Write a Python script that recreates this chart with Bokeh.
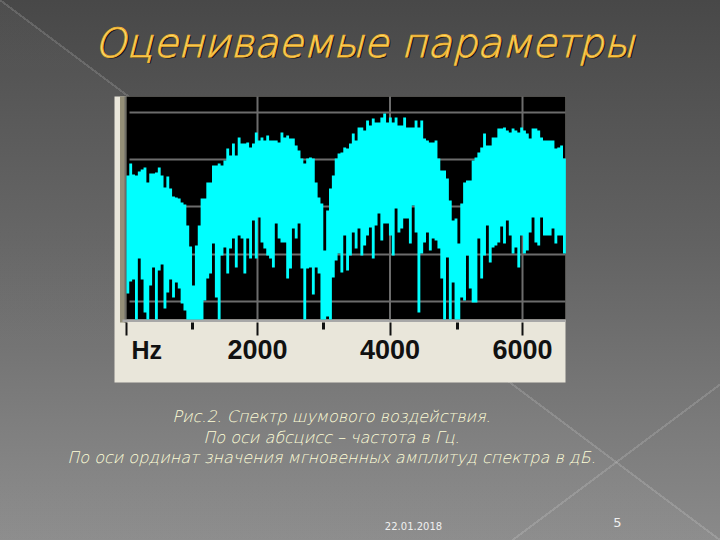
from bokeh.embed import file_html
from bokeh.resources import INLINE
from bokeh.models import Label, FixedTicker, LinearAxis, Range1d
from bokeh.plotting import figure

BIN_HZ = 43.07
# Upper envelope of the spectrum, one value per FFT bin (amplitude units above the floor)
spectrum_top = [
    144,156,145,144,148,150,152,137,146,146,147,152,144,132,143,131,123,122,121,117,
    115,94,73,34,74,94,121,121,137,137,154,154,156,154,159,171,164,176,164,182,
    176,176,177,172,176,187,179,182,179,184,179,179,179,177,187,182,184,181,181,174,
    169,161,156,161,162,161,137,122,116,69,109,131,144,161,166,167,172,171,176,186,
    179,192,192,189,199,194,201,197,197,202,206,197,202,197,202,194,194,202,192,192,
    192,199,192,199,181,179,177,177,179,161,149,149,141,119,99,101,76,116,137,139,
    139,159,162,167,172,186,174,174,182,182,191,191,192,189,187,191,189,187,192,189,
    186,181,191,191,189,182,179,179,179,179,171,172,174,161,
]
# Lower envelope of the spectrum, one value per FFT bin
spectrum_low = [
    26,38,40,0,61,40,7,0,34,52,0,49,55,11,27,40,22,37,31,16,
    9,0,0,0,0,0,0,19,41,46,76,22,0,64,72,46,71,81,52,84,
    81,46,81,61,99,61,102,77,71,64,61,52,96,81,77,77,41,51,91,81,
    96,51,0,51,52,25,52,46,0,0,3,0,42,59,66,47,84,49,64,87,
    71,91,64,74,84,92,61,94,106,79,96,96,84,64,111,87,91,101,101,76,
    114,87,7,66,77,87,69,81,79,71,41,0,62,0,37,0,0,22,19,64,
    31,17,17,81,41,64,94,57,72,74,77,93,76,99,84,66,72,52,84,66,
    69,87,102,77,74,102,84,84,84,91,76,84,84,66,
]
# left edge of each FFT bin, plus the right edge of the last one
bin_edges_hz = [BIN_HZ * (k + 0.5) for k in range(len(spectrum_top) + 1)]

grid_levels = [18, 65, 113, 160, 207]
grid_freqs = [2000, 4000, 6000]
major_ticks = [30, 2000, 4000, 6000]
minor_ticks = [1020, 3000, 5020]
tick_labels = {30: "", 2000: "2000", 4000: "4000", 6000: "6000"}
unit_label = "Hz"
title_text = "Оцениваемые параметры"
caption_lines = [
    "Рис.2. Спектр шумового воздействия.",
    "По оси абсцисс – частота в Гц.",
    "По оси ординат значения мгновенных амплитуд спектра в дБ.",
]
date_text = "22.01.2018"
page_no = "5"


# scale between page pixels and the chart's data space (for the slide furniture only)
def X(px):
    return (px - 124.5) / 0.06625


def Y(py):
    return 319 - py


p = figure(
    width=720, height=540, output_backend="svg", toolbar_location=None,
    x_range=Range1d(X(0), X(720)), y_range=Range1d(Y(540), Y(0)),
    x_axis_location=None, y_axis_location=None,
    min_border=0, min_border_left=0, min_border_right=0, min_border_top=0, min_border_bottom=0,
    background_fill_color=None, border_fill_color=None, outline_line_color=None,
)
p.grid.visible = False

# window of the analyser program
p.quad(left=X(114), right=X(565), top=Y(96), bottom=Y(382), fill_color="#e9e6da", line_color=None, level="image")
p.quad(left=X(119.5), right=X(126), top=Y(96), bottom=Y(322), fill_color="#948f78", line_color=None, level="image")
p.quad(left=X(124), right=X(126), top=Y(96), bottom=Y(322), fill_color="#6f6e68", line_color=None, level="image")
p.quad(left=X(126), right=X(565), top=Y(96), bottom=Y(319), fill_color="#000000", line_color=None, level="image")
p.quad(left=X(122), right=X(565), top=Y(319), bottom=Y(321.5), fill_color="#a8a8a8", line_color=None, level="image")

p.segment(x0=grid_freqs, x1=grid_freqs, y0=[Y(319)] * 3, y1=[Y(96)] * 3,
          line_color="#6c6c6c", line_width=2, level="underlay")
p.segment(x0=[X(129)] * 5, x1=[X(565)] * 5, y0=grid_levels, y1=grid_levels,
          line_color="#6c6c6c", line_width=2, level="underlay")

p.varea_step(x=bin_edges_hz, y1=spectrum_low + spectrum_low[-1:], y2=spectrum_top + spectrum_top[-1:],
             step_mode="after", fill_color="#00ffff")

axis = LinearAxis(fixed_location=Y(322), ticker=FixedTicker(ticks=major_ticks, minor_ticks=minor_ticks),
                  major_label_overrides=tick_labels, axis_line_color=None,
                  major_tick_in=0, major_tick_out=13, minor_tick_in=0, minor_tick_out=7,
                  major_tick_line_color="#111111", major_tick_line_width=2,
                  minor_tick_line_color="#111111", minor_tick_line_width=3,
                  major_label_standoff=4, major_label_text_font="Liberation Sans",
                  major_label_text_font_size="27px", major_label_text_font_style="bold",
                  major_label_text_color="#111111")
p.add_layout(axis, "below")
p.add_layout(Label(x=X(131), y=Y(349), text=unit_label, text_font="Liberation Sans",
                   text_font_size="25px", text_font_style="bold", text_color="#111111",
                   text_baseline="middle"))

# slide texts
p.add_layout(Label(x=X(95.5), y=Y(43.5), text=title_text, text_font="DejaVu Sans Light", text_font_size="40px",
                   text_font_style="italic", text_color="#151515", text_baseline="middle"))
p.add_layout(Label(x=X(94), y=Y(42), text=title_text, text_font="DejaVu Sans Light", text_font_size="40px",
                   text_font_style="italic", text_color="#ffe97a", text_outline_color="#f0b030",
                   text_baseline="middle"))
for line, cy in zip(caption_lines, [416, 437, 457]):
    p.add_layout(Label(x=X(331), y=Y(cy), text=line, text_font="DejaVu Sans Light", text_font_size="16px",
                       text_font_style="italic", text_color="#ffffd8", text_align="center",
                       text_baseline="middle"))
p.add_layout(Label(x=X(413), y=Y(525), text=date_text, text_font="DejaVu Sans", text_font_size="10px",
                   text_color="#f0f0f0", text_align="center", text_baseline="middle"))
p.add_layout(Label(x=X(617), y=Y(522), text=page_no, text_font="DejaVu Sans", text_font_size="13px",
                   text_color="#f0f0f0", text_align="center", text_baseline="middle"))

STYLE = """<style>
html{height:100%;background:
linear-gradient(to top right,transparent calc(50% - 1px),rgba(255,255,255,.14) calc(50% - 1px),rgba(255,255,255,.14) calc(50% + 1px),transparent calc(50% + 1px)),
linear-gradient(to bottom right,transparent calc(85.6% - 1px),rgba(255,255,255,.14) calc(85.6% - 1px),rgba(255,255,255,.14) calc(85.6% + 1px),transparent calc(85.6% + 1px)),
linear-gradient(to top right,rgba(255,255,255,.03) 50%,transparent 50%),
linear-gradient(to bottom,#484848 0%,#626262 45%,#8a8a8a 100%);}
body{overflow:hidden}
</style>"""
open("out.html", "w").write(file_html(p, INLINE).replace("<head>", "<head>" + STYLE, 1))
